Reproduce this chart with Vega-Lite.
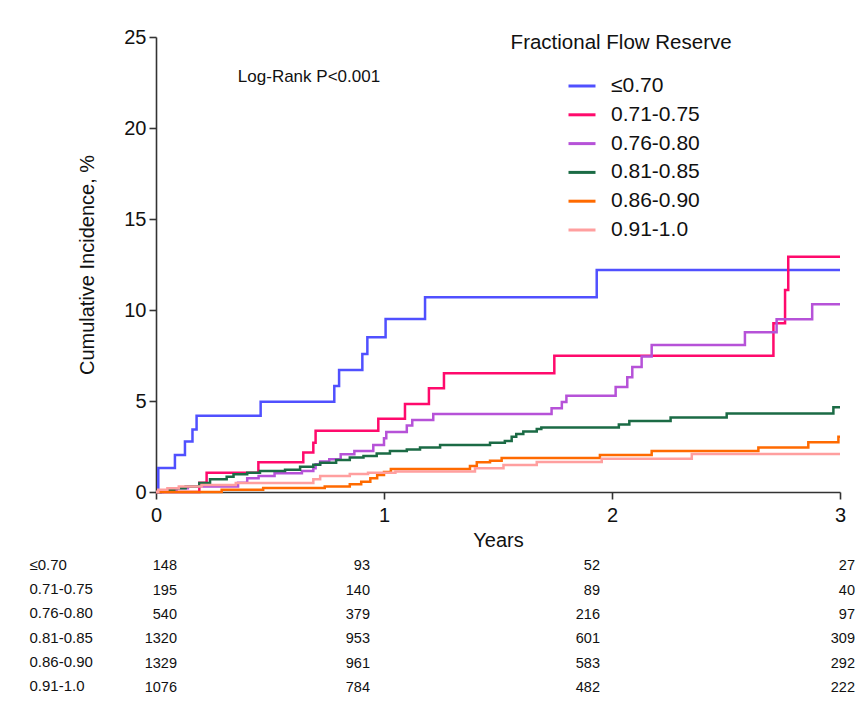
{
  "$schema": "https://vega.github.io/schema/vega-lite/v6.json",
  "padding": {"left": 29, "top": 27, "right": 5, "bottom": 5},
  "bounds": "flush",
  "spacing": 62,
  "background": "white",
  "config": {
    "font": "Liberation Sans",
    "view": {"stroke": null},
    "axis": {"grid": false, "domainColor": "#333", "tickColor": "#333", "labelColor": "#111", "titleColor": "#111", "domainWidth": 1.6, "tickWidth": 1.6, "titleFontWeight": "normal"}
  },
  "resolve": {"scale": {"x": "independent", "y": "independent"}},
  "datasets": {
    "curves": [
      {"group": "≤0.70", "t": 0, "v": 0}, {"group": "≤0.70", "t": 0.01, "v": 1.32}, {"group": "≤0.70", "t": 0.083, "v": 2.03}, {"group": "≤0.70", "t": 0.127, "v": 2.77}, {"group": "≤0.70", "t": 0.16, "v": 3.44}, {"group": "≤0.70", "t": 0.178, "v": 4.19}, {"group": "≤0.70", "t": 0.459, "v": 4.96}, {"group": "≤0.70", "t": 0.782, "v": 5.82}, {"group": "≤0.70", "t": 0.803, "v": 6.7}, {"group": "≤0.70", "t": 0.905, "v": 7.58}, {"group": "≤0.70", "t": 0.927, "v": 8.5}, {"group": "≤0.70", "t": 1.007, "v": 9.5}, {"group": "≤0.70", "t": 1.18, "v": 10.7}, {"group": "≤0.70", "t": 1.933, "v": 12.2}, {"group": "≤0.70", "t": 3.0, "v": 12.2},
      {"group": "0.71-0.75", "t": 0, "v": 0}, {"group": "0.71-0.75", "t": 0.19, "v": 0.51}, {"group": "0.71-0.75", "t": 0.222, "v": 1.06}, {"group": "0.71-0.75", "t": 0.449, "v": 1.63}, {"group": "0.71-0.75", "t": 0.646, "v": 2.17}, {"group": "0.71-0.75", "t": 0.69, "v": 2.71}, {"group": "0.71-0.75", "t": 0.7, "v": 3.37}, {"group": "0.71-0.75", "t": 0.975, "v": 4.02}, {"group": "0.71-0.75", "t": 1.092, "v": 4.83}, {"group": "0.71-0.75", "t": 1.197, "v": 5.7}, {"group": "0.71-0.75", "t": 1.263, "v": 6.52}, {"group": "0.71-0.75", "t": 1.747, "v": 7.48}, {"group": "0.71-0.75", "t": 2.708, "v": 9.27}, {"group": "0.71-0.75", "t": 2.759, "v": 11.1}, {"group": "0.71-0.75", "t": 2.773, "v": 12.93}, {"group": "0.71-0.75", "t": 3.0, "v": 12.93},
      {"group": "0.76-0.80", "t": 0, "v": 0}, {"group": "0.76-0.80", "t": 0.03, "v": 0.1}, {"group": "0.76-0.80", "t": 0.09, "v": 0.2}, {"group": "0.76-0.80", "t": 0.14, "v": 0.3}, {"group": "0.76-0.80", "t": 0.36, "v": 0.51}, {"group": "0.76-0.80", "t": 0.4, "v": 0.75}, {"group": "0.76-0.80", "t": 0.45, "v": 0.88}, {"group": "0.76-0.80", "t": 0.52, "v": 1.03}, {"group": "0.76-0.80", "t": 0.64, "v": 1.15}, {"group": "0.76-0.80", "t": 0.69, "v": 1.3}, {"group": "0.76-0.80", "t": 0.7, "v": 1.52}, {"group": "0.76-0.80", "t": 0.72, "v": 1.67}, {"group": "0.76-0.80", "t": 0.76, "v": 1.8}, {"group": "0.76-0.80", "t": 0.81, "v": 2.07}, {"group": "0.76-0.80", "t": 0.87, "v": 2.25}, {"group": "0.76-0.80", "t": 0.953, "v": 2.58}, {"group": "0.76-0.80", "t": 1.0, "v": 2.95}, {"group": "0.76-0.80", "t": 1.01, "v": 3.3}, {"group": "0.76-0.80", "t": 1.1, "v": 3.65}, {"group": "0.76-0.80", "t": 1.124, "v": 3.96}, {"group": "0.76-0.80", "t": 1.216, "v": 4.29}, {"group": "0.76-0.80", "t": 1.735, "v": 4.6}, {"group": "0.76-0.80", "t": 1.78, "v": 4.95}, {"group": "0.76-0.80", "t": 1.8, "v": 5.29}, {"group": "0.76-0.80", "t": 2.016, "v": 5.77}, {"group": "0.76-0.80", "t": 2.067, "v": 6.3}, {"group": "0.76-0.80", "t": 2.089, "v": 6.87}, {"group": "0.76-0.80", "t": 2.13, "v": 7.45}, {"group": "0.76-0.80", "t": 2.174, "v": 8.08}, {"group": "0.76-0.80", "t": 2.583, "v": 8.78}, {"group": "0.76-0.80", "t": 2.722, "v": 9.49}, {"group": "0.76-0.80", "t": 2.878, "v": 10.31}, {"group": "0.76-0.80", "t": 3.0, "v": 10.31},
      {"group": "0.81-0.85", "t": 0, "v": 0}, {"group": "0.81-0.85", "t": 0.02, "v": 0.1}, {"group": "0.81-0.85", "t": 0.08, "v": 0.2}, {"group": "0.81-0.85", "t": 0.13, "v": 0.3}, {"group": "0.81-0.85", "t": 0.19, "v": 0.5}, {"group": "0.81-0.85", "t": 0.237, "v": 0.7}, {"group": "0.81-0.85", "t": 0.31, "v": 0.84}, {"group": "0.81-0.85", "t": 0.34, "v": 0.97}, {"group": "0.81-0.85", "t": 0.4, "v": 1.06}, {"group": "0.81-0.85", "t": 0.456, "v": 1.15}, {"group": "0.81-0.85", "t": 0.566, "v": 1.22}, {"group": "0.81-0.85", "t": 0.632, "v": 1.39}, {"group": "0.81-0.85", "t": 0.69, "v": 1.5}, {"group": "0.81-0.85", "t": 0.72, "v": 1.61}, {"group": "0.81-0.85", "t": 0.79, "v": 1.76}, {"group": "0.81-0.85", "t": 0.85, "v": 1.9}, {"group": "0.81-0.85", "t": 0.91, "v": 1.98}, {"group": "0.81-0.85", "t": 0.968, "v": 2.12}, {"group": "0.81-0.85", "t": 1.026, "v": 2.25}, {"group": "0.81-0.85", "t": 1.1, "v": 2.34}, {"group": "0.81-0.85", "t": 1.158, "v": 2.45}, {"group": "0.81-0.85", "t": 1.246, "v": 2.58}, {"group": "0.81-0.85", "t": 1.465, "v": 2.71}, {"group": "0.81-0.85", "t": 1.53, "v": 2.8}, {"group": "0.81-0.85", "t": 1.56, "v": 3.04}, {"group": "0.81-0.85", "t": 1.58, "v": 3.18}, {"group": "0.81-0.85", "t": 1.611, "v": 3.32}, {"group": "0.81-0.85", "t": 1.67, "v": 3.46}, {"group": "0.81-0.85", "t": 1.69, "v": 3.55}, {"group": "0.81-0.85", "t": 2.03, "v": 3.71}, {"group": "0.81-0.85", "t": 2.076, "v": 3.9}, {"group": "0.81-0.85", "t": 2.257, "v": 4.1}, {"group": "0.81-0.85", "t": 2.503, "v": 4.32}, {"group": "0.81-0.85", "t": 2.971, "v": 4.65}, {"group": "0.81-0.85", "t": 3.0, "v": 4.65},
      {"group": "0.86-0.90", "t": 0, "v": 0}, {"group": "0.86-0.90", "t": 0.288, "v": 0.12}, {"group": "0.86-0.90", "t": 0.47, "v": 0.22}, {"group": "0.86-0.90", "t": 0.74, "v": 0.3}, {"group": "0.86-0.90", "t": 0.85, "v": 0.42}, {"group": "0.86-0.90", "t": 0.9, "v": 0.57}, {"group": "0.86-0.90", "t": 0.94, "v": 0.75}, {"group": "0.86-0.90", "t": 0.97, "v": 0.93}, {"group": "0.86-0.90", "t": 1.0, "v": 1.1}, {"group": "0.86-0.90", "t": 1.03, "v": 1.26}, {"group": "0.86-0.90", "t": 1.377, "v": 1.43}, {"group": "0.86-0.90", "t": 1.407, "v": 1.63}, {"group": "0.86-0.90", "t": 1.465, "v": 1.72}, {"group": "0.86-0.90", "t": 1.516, "v": 1.87}, {"group": "0.86-0.90", "t": 1.947, "v": 2.03}, {"group": "0.86-0.90", "t": 2.174, "v": 2.25}, {"group": "0.86-0.90", "t": 2.642, "v": 2.45}, {"group": "0.86-0.90", "t": 2.861, "v": 2.73}, {"group": "0.86-0.90", "t": 2.993, "v": 3.04}, {"group": "0.86-0.90", "t": 3.0, "v": 3.04},
      {"group": "0.91-1.0", "t": 0, "v": 0}, {"group": "0.91-1.0", "t": 0.01, "v": 0.12}, {"group": "0.91-1.0", "t": 0.05, "v": 0.2}, {"group": "0.91-1.0", "t": 0.1, "v": 0.3}, {"group": "0.91-1.0", "t": 0.2, "v": 0.38}, {"group": "0.91-1.0", "t": 0.35, "v": 0.5}, {"group": "0.91-1.0", "t": 0.69, "v": 0.7}, {"group": "0.91-1.0", "t": 0.72, "v": 0.88}, {"group": "0.91-1.0", "t": 0.85, "v": 0.99}, {"group": "0.91-1.0", "t": 0.93, "v": 1.06}, {"group": "0.91-1.0", "t": 1.05, "v": 1.12}, {"group": "0.91-1.0", "t": 1.399, "v": 1.3}, {"group": "0.91-1.0", "t": 1.524, "v": 1.48}, {"group": "0.91-1.0", "t": 1.67, "v": 1.65}, {"group": "0.91-1.0", "t": 1.955, "v": 1.83}, {"group": "0.91-1.0", "t": 2.35, "v": 2.09}, {"group": "0.91-1.0", "t": 3.0, "v": 2.09}
    ],
    "atrisk": [
      {"group": "≤0.70", "year": 0, "n": 148}, {"group": "≤0.70", "year": 1, "n": 93}, {"group": "≤0.70", "year": 2, "n": 52}, {"group": "≤0.70", "year": 3, "n": 27},
      {"group": "0.71-0.75", "year": 0, "n": 195}, {"group": "0.71-0.75", "year": 1, "n": 140}, {"group": "0.71-0.75", "year": 2, "n": 89}, {"group": "0.71-0.75", "year": 3, "n": 40},
      {"group": "0.76-0.80", "year": 0, "n": 540}, {"group": "0.76-0.80", "year": 1, "n": 379}, {"group": "0.76-0.80", "year": 2, "n": 216}, {"group": "0.76-0.80", "year": 3, "n": 97},
      {"group": "0.81-0.85", "year": 0, "n": 1320}, {"group": "0.81-0.85", "year": 1, "n": 953}, {"group": "0.81-0.85", "year": 2, "n": 601}, {"group": "0.81-0.85", "year": 3, "n": 309},
      {"group": "0.86-0.90", "year": 0, "n": 1329}, {"group": "0.86-0.90", "year": 1, "n": 961}, {"group": "0.86-0.90", "year": 2, "n": 583}, {"group": "0.86-0.90", "year": 3, "n": 292},
      {"group": "0.91-1.0", "year": 0, "n": 1076}, {"group": "0.91-1.0", "year": 1, "n": 784}, {"group": "0.91-1.0", "year": 2, "n": 482}, {"group": "0.91-1.0", "year": 3, "n": 222}
    ]
  },
  "vconcat": [
    {
      "width": 684,
      "height": 455,
      "layer": [
        {
          "data": {"name": "curves"},
          "mark": {"type": "line", "interpolate": "step-after", "strokeWidth": 2.5, "clip": false},
          "encoding": {
            "x": {"field": "t", "type": "quantitative", "scale": {"domain": [0, 3], "nice": false},
                  "axis": {"values": [0, 1, 2, 3], "format": "d", "title": "Years", "labelFontSize": 20, "titleFontSize": 20, "tickSize": 7, "labelPadding": 6, "titlePadding": 5, "labelFlush": false}},
            "y": {"field": "v", "type": "quantitative", "scale": {"domain": [0, 25], "nice": false},
                  "axis": {"values": [0, 5, 10, 15, 20, 25], "title": "Cumulative Incidence, %", "labelFontSize": 20, "titleFontSize": 20, "tickSize": 7, "labelPadding": 3, "titlePadding": 26}},
            "color": {"field": "group", "type": "nominal",
                      "scale": {"domain": ["≤0.70", "0.71-0.75", "0.76-0.80", "0.81-0.85", "0.86-0.90", "0.91-1.0"],
                                "range": ["#5050ff", "#ff0a6c", "#b652d8", "#1b6b45", "#ff6a00", "#ff9f9f"]},
                      "legend": {"orient": "none", "legendX": 411, "legendY": 34, "title": null, "symbolType": "stroke", "symbolSize": 729, "symbolStrokeWidth": 3, "labelFontSize": 21, "labelOffset": 14, "rowPadding": 3.8, "padding": 0, "labelColor": "#111"}}
          }
        },
        {
          "data": {"values": [{"label": "Fractional Flow Reserve", "t": 2.04, "v": 24.69}]},
          "mark": {"type": "text", "fontSize": 20.5, "color": "#111"},
          "encoding": {"x": {"field": "t", "type": "quantitative"}, "y": {"field": "v", "type": "quantitative"}, "text": {"field": "label"}}
        },
        {
          "data": {"values": [{"label": "Log-Rank P<0.001", "t": 0.671, "v": 22.82}]},
          "mark": {"type": "text", "fontSize": 17, "color": "#111"},
          "encoding": {"x": {"field": "t", "type": "quantitative"}, "y": {"field": "v", "type": "quantitative"}, "text": {"field": "label"}}
        }
      ]
    },
    {
      "width": 684,
      "height": 146,
      "data": {"name": "atrisk"},
      "encoding": {
        "x": {"field": "year", "type": "quantitative", "scale": {"domain": [0, 3], "nice": false}, "axis": null},
        "y": {"field": "group", "type": "nominal", "sort": ["≤0.70", "0.71-0.75", "0.76-0.80", "0.81-0.85", "0.86-0.90", "0.91-1.0"],
              "axis": {"title": null, "domain": false, "ticks": false, "tickSize": 0, "labelAlign": "left", "labelBaseline": "middle", "labelPadding": 127, "labelFontSize": 15, "labelColor": "#111", "labelOffset": -2}},
        "text": {"field": "n", "type": "quantitative"}
      },
      "layer": [
        {"transform": [{"filter": "datum.year == 0"}], "mark": {"type": "text", "align": "right", "dx": 21, "fontSize": 14.5, "color": "#111"}},
        {"transform": [{"filter": "datum.year == 1"}], "mark": {"type": "text", "align": "right", "dx": -14, "fontSize": 14.5, "color": "#111"}},
        {"transform": [{"filter": "datum.year == 2"}], "mark": {"type": "text", "align": "right", "dx": -12, "fontSize": 14.5, "color": "#111"}},
        {"transform": [{"filter": "datum.year == 3"}], "mark": {"type": "text", "align": "right", "dx": 15, "fontSize": 14.5, "color": "#111"}}
      ]
    }
  ]
}
